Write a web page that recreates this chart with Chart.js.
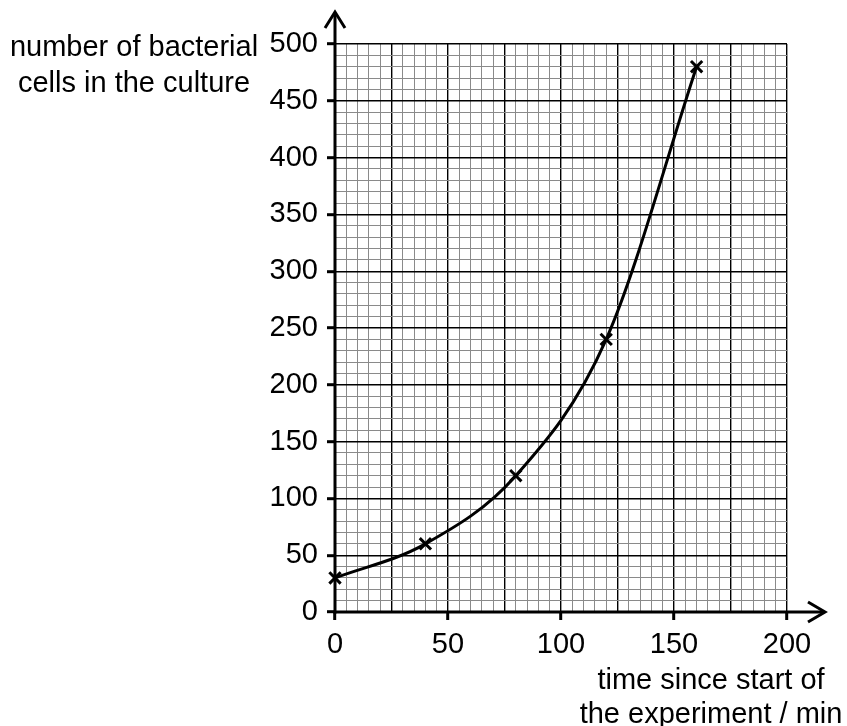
<!DOCTYPE html>
<html>
<head>
<meta charset="utf-8">
<script src="https://cdn.jsdelivr.net/npm/chart.js@4.4.1/dist/chart.umd.min.js"></script>
<style>
  html, body { margin: 0; padding: 0; background: #ffffff; }
  #wrap { position: relative; width: 847px; height: 726px; }
</style>
</head>
<body>
<div id="wrap"><canvas id="c" width="847" height="726"></canvas></div>
<script>
// ---- data ----
const times = [0, 40, 80, 120, 160];          // time since start / min
const cells = [30, 60, 120, 240, 480];        // number of bacterial cells
const xTickLabels = [0, 50, 100, 150, 200];
const yTickLabels = [0, 50, 100, 150, 200, 250, 300, 350, 400, 450, 500];
const yTitleLines = ["number of bacterial", "cells in the culture"];
const xTitleLines = ["time since start of", "the experiment / min"];

const FONT = "'Liberation Sans', Arial, sans-serif";

const points = times.map((t, i) => ({ x: t, y: cells[i] }));

const axesPlugin = {
  id: 'axesArrows',
  beforeDatasetsDraw(chart) {
    const { ctx, scales: { x, y } } = chart;
    const x0 = x.getPixelForValue(0);
    const y0 = y.getPixelForValue(0);
    const yTop = y.getPixelForValue(500);
    const xRight = x.getPixelForValue(200);
    ctx.save();
    ctx.strokeStyle = '#000';
    ctx.lineWidth = 3;
    ctx.lineCap = 'butt';
    // y axis with arrow
    const yTip = yTop - 32;
    ctx.beginPath();
    ctx.moveTo(x0, y0 + 1.5);
    ctx.lineTo(x0, yTip + 1);
    ctx.stroke();
    ctx.beginPath();
    ctx.moveTo(x0 - 10, yTip + 16);
    ctx.lineTo(x0, yTip);
    ctx.lineTo(x0 + 10, yTip + 16);
    ctx.stroke();
    // x axis with arrow
    const xTip = xRight + 38;
    ctx.beginPath();
    ctx.moveTo(x0 - 1.5, y0);
    ctx.lineTo(xTip - 1, y0);
    ctx.stroke();
    ctx.beginPath();
    ctx.moveTo(xTip - 17, y0 - 10);
    ctx.lineTo(xTip, y0);
    ctx.lineTo(xTip - 17, y0 + 10);
    ctx.stroke();
    ctx.restore();
  },
  afterDraw(chart) {
    const { ctx, chartArea } = chart;
    ctx.save();
    ctx.fillStyle = '#000';
    ctx.font = '29px ' + FONT;
    ctx.textAlign = 'center';
    ctx.textBaseline = 'middle';
    const yc = chartArea.left - 201;
    ctx.fillText(yTitleLines[0], yc, chartArea.top + 4);
    ctx.fillText(yTitleLines[1], yc, chartArea.top + 40);
    const xc = chartArea.right - 76;
    ctx.fillText(xTitleLines[0], xc, chartArea.bottom + 69);
    ctx.fillText(xTitleLines[1], xc, chartArea.bottom + 103);
    ctx.restore();
  }
};

new Chart(document.getElementById('c'), {
  type: 'scatter',
  data: {
    datasets: [{
      data: points,
      showLine: true,
      cubicInterpolationMode: 'monotone',
      borderColor: '#000',
      borderWidth: 3,
      pointStyle: 'crossRot',
      pointRadius: 8,
      pointBorderWidth: 3,
      pointBorderColor: '#000',
      pointBackgroundColor: '#000',
      clip: false
    }]
  },
  options: {
    responsive: false,
    animation: false,
    layout: { padding: { left: 0, right: 60, top: 44, bottom: 0 } },
    plugins: { legend: { display: false }, tooltip: { enabled: false } },
    scales: {
      x: {
        type: 'linear',
        min: 0, max: 200,
        afterFit(s) { s.height = 114; },
        border: { display: false },
        grid: {
          color: c => (c.tick && c.tick.value % 25 === 0) ? '#000' : '#8a8a8a',
          lineWidth: c => (c.tick && c.tick.value % 25 === 0) ? 1.4 : 1,
          drawTicks: true,
          tickLength: 8,
          tickWidth: 3,
          tickColor: c => (c.tick && xTickLabels.includes(c.tick.value)) ? '#000' : 'rgba(0,0,0,0)'
        },
        ticks: {
          stepSize: 5,
          autoSkip: false,
          maxRotation: 0,
          padding: 8,
          color: '#000',
          font: { family: FONT, size: 29 },
          callback: v => xTickLabels.includes(v) ? String(v) : ''
        }
      },
      y: {
        type: 'linear',
        min: 0, max: 500,
        afterFit(s) { s.width = 335; },
        border: { display: false },
        grid: {
          color: c => (c.tick && c.tick.value % 50 === 0) ? '#000' : '#8a8a8a',
          lineWidth: c => (c.tick && c.tick.value % 50 === 0) ? 1.4 : 1,
          drawTicks: true,
          tickLength: 8,
          tickWidth: 3,
          tickColor: c => (c.tick && yTickLabels.includes(c.tick.value)) ? '#000' : 'rgba(0,0,0,0)'
        },
        ticks: {
          stepSize: 10,
          autoSkip: false,
          padding: 9,
          color: '#000',
          font: { family: FONT, size: 29 },
          callback: v => yTickLabels.includes(v) ? String(v) : ''
        }
      }
    }
  },
  plugins: [axesPlugin]
});
</script>
</body>
</html>
